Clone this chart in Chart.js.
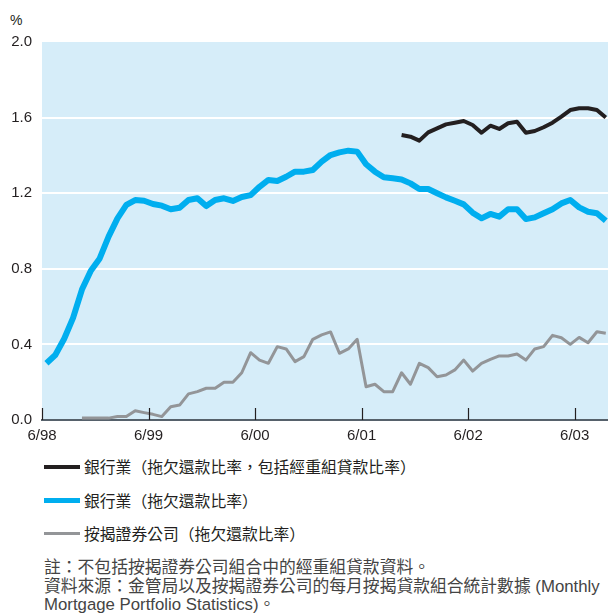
<!DOCTYPE html>
<html>
<head>
<meta charset="utf-8">
<script src="https://cdn.jsdelivr.net/npm/chart.js@4.4.0/dist/chart.umd.min.js"></script>
<style>
  body { margin: 0; width: 608px; height: 613px; background: #fff; overflow: hidden; position: relative;
         font-family: "Liberation Sans", "Noto Sans CJK TC", sans-serif; color: #231f20; }
  #wrap { position: absolute; left: 0; top: 0; width: 608px; height: 445px; }
  .unit { position: absolute; left: 10px; top: 12px; font-size: 14px; }
  .legend { position: absolute; left: 44px; top: 450px; }
  .legend div { height: 33.5px; display: flex; align-items: center; font-size: 15.8px; white-space: nowrap; }
  .legend .swatch { display: inline-block; width: 36px; margin-right: 4px; }
  .notes { position: absolute; left: 44px; top: 559px; font-size: 16.8px; line-height: 18.5px; color: #444; white-space: nowrap; }
</style>
</head>
<body>
<div class="unit">%</div>
<div id="wrap"><canvas id="npl-chart" width="608" height="445"></canvas></div>

<div class="legend">
  <div><span class="swatch" style="height:4px;background:#231f20"></span>銀行業（拖欠還款比率，包括經重組貸款比率）</div>
  <div><span class="swatch" style="height:5px;background:#00aeef"></span>銀行業（拖欠還款比率）</div>
  <div><span class="swatch" style="height:3px;background:#939598"></span>按揭證券公司（拖欠還款比率）</div>
</div>
<div class="notes">
  註：不包括按揭證券公司組合中的經重組貸款資料。<br>
  資料來源：金管局以及按揭證券公司的每月按揭貸款組合統計數據 (Monthly<br>
  Mortgage Portfolio Statistics)。
</div>

<script>
// Monthly series, month 0 = June 1998
const yearLabels = ["6/98", "6/99", "6/00", "6/01", "6/02", "6/03"];

// banks, delinquency ratio incl. rescheduled loans (from month 40)
const bankInclResched = [1.508, 1.499, 1.478, 1.522, 1.543, 1.564, 1.573, 1.582, 1.561, 1.52,
    1.557, 1.54, 1.57, 1.578, 1.52, 1.529, 1.549, 1.573, 1.605, 1.64,
    1.649, 1.649, 1.64, 1.6];
const inclReschedStart = 40;

// banks, delinquency ratio
const bankDelinq = [0.30, 0.344, 0.43, 0.54, 0.69, 0.79, 0.855, 0.97, 1.067, 1.138,
    1.164, 1.16, 1.143, 1.134, 1.115, 1.123, 1.164, 1.173, 1.132, 1.164,
    1.173, 1.159, 1.18, 1.19, 1.234, 1.27, 1.265, 1.287, 1.314, 1.314,
    1.323, 1.367, 1.402, 1.416, 1.425, 1.42, 1.353, 1.314, 1.284, 1.279,
    1.273, 1.252, 1.222, 1.222, 1.2, 1.178, 1.16, 1.141, 1.097, 1.067,
    1.09, 1.076, 1.115, 1.115, 1.063, 1.072, 1.094, 1.115, 1.146, 1.164,
    1.125, 1.102, 1.094, 1.054];

// HKMC delinquency ratio (from month 4)
const hkmcDelinq = [0.01, 0.01, 0.01, 0.01, 0.018, 0.018, 0.049, 0.039, 0.03, 0.018,
    0.07, 0.079, 0.138, 0.15, 0.168, 0.168, 0.2, 0.2, 0.25, 0.356,
    0.317, 0.3, 0.388, 0.376, 0.309, 0.335, 0.427, 0.45, 0.466, 0.353,
    0.376, 0.427, 0.176, 0.189, 0.15, 0.15, 0.25, 0.189, 0.3, 0.277,
    0.229, 0.238, 0.265, 0.317, 0.259, 0.3, 0.321, 0.339, 0.339, 0.349,
    0.317, 0.376, 0.388, 0.448, 0.435, 0.4, 0.437, 0.409, 0.467, 0.459];
const hkmcStart = 4;

const yTicks = [0, 0.4, 0.8, 1.2, 1.6, 2.0];

const toPoints = (arr, start) => arr.map((v, i) => ({ x: start + i, y: v }));

// light blue plot background
const plotBg = {
    id: 'plotBg',
    beforeDraw(chart) {
        const { ctx, chartArea: a } = chart;
        ctx.save();
        ctx.fillStyle = '#d6edf9';
        ctx.fillRect(a.left, a.top, a.right - a.left, a.bottom - a.top);
        ctx.restore();
    }
};

// short year ticks pointing up from the baseline
const innerTicks = {
    id: 'innerTicks',
    afterDatasetsDraw(chart) {
        const { ctx, chartArea, scales: { x } } = chart;
        ctx.save();
        ctx.strokeStyle = '#231f20';
        ctx.lineWidth = 1.2;
        x.ticks.forEach(t => {
            const px = Math.round(x.getPixelForValue(t.value)) + 0.5;
            ctx.beginPath();
            ctx.moveTo(px, chartArea.bottom);
            ctx.lineTo(px, chartArea.bottom - 12);
            ctx.stroke();
        });
        ctx.restore();
    }
};

const lineStyle = { pointRadius: 0, tension: 0, borderJoinStyle: 'round', fill: false };

new Chart(document.getElementById('npl-chart'), {
    type: 'line',
    data: {
        datasets: [
            { ...lineStyle, data: toPoints(bankInclResched, inclReschedStart), borderColor: '#231f20', borderWidth: 4 },
            { ...lineStyle, data: toPoints(bankDelinq, 0), borderColor: '#00aeef', borderWidth: 6 },
            { ...lineStyle, data: toPoints(hkmcDelinq, hkmcStart), borderColor: '#939598', borderWidth: 3 }
        ]
    },
    options: {
        responsive: false,
        animation: false,
        layout: { padding: { top: 42, right: 0, bottom: 0, left: 0 } },
        plugins: { legend: { display: false }, tooltip: { enabled: false } },
        scales: {
            x: {
                type: 'linear',
                min: -0.5,
                max: 63.25,
                afterBuildTicks: s => { s.ticks = yearLabels.map((l, k) => ({ value: k * 12 - 0.5 })); },
                ticks: {
                    callback: v => yearLabels[Math.round((v + 0.5) / 12)],
                    font: { family: 'Liberation Sans', size: 15 },
                    color: '#231f20',
                    padding: 7,
                    maxRotation: 0,
                    autoSkip: false
                },
                grid: { display: false, drawTicks: false },
                border: { display: true, color: '#56616b', width: 2 },
                afterFit: s => { s.height = 25; }
            },
            y: {
                min: 0,
                max: 2,
                afterBuildTicks: s => { s.ticks = yTicks.map(v => ({ value: v })); },
                ticks: {
                    callback: v => v.toFixed(1),
                    font: { family: 'Liberation Sans', size: 15 },
                    color: '#231f20',
                    padding: 10
                },
                grid: {
                    color: c => (c.tick && (c.tick.value === 0 || c.tick.value === 2)) ? 'rgba(0,0,0,0)' : '#ffffff',
                    lineWidth: 2,
                    drawTicks: false
                },
                border: { display: false },
                afterFit: s => { s.width = 42; }
            }
        }
    },
    plugins: [plotBg, innerTicks]
});
</script>
</body>
</html>
